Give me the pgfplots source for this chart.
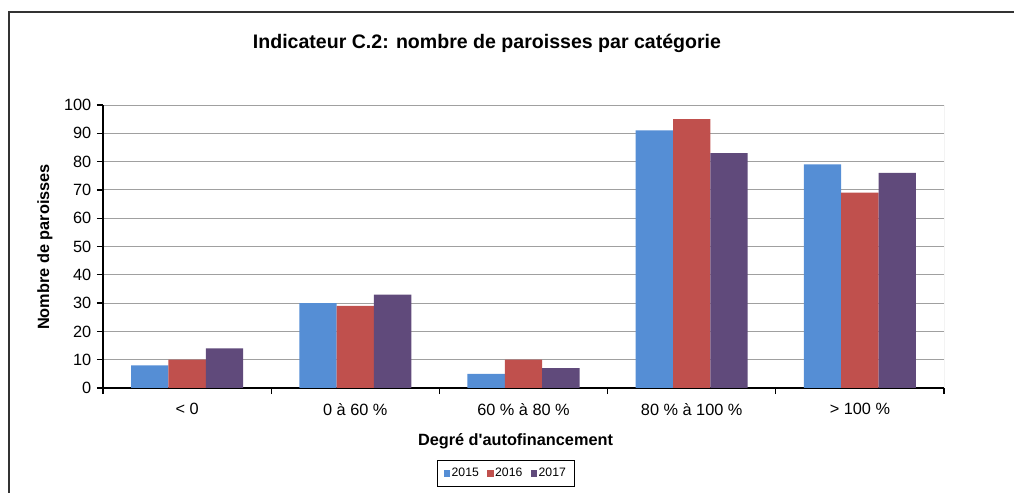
\documentclass[border=0pt]{standalone}
\usepackage{pgfplots}
\pgfplotsset{compat=1.18}
\usepackage{fontspec}
\setmainfont{Liberation Sans}[Ligatures=TeXOff]
\definecolor{c15}{HTML}{558ED5}
\definecolor{c16}{HTML}{C0504D}
\definecolor{c17}{HTML}{604A7B}
\definecolor{gridc}{HTML}{A0A0A0}
\def\px{0.6135pt}
\begin{document}
\begin{tikzpicture}
\path[use as bounding box] (0,0) rectangle (1014*\px,493*\px);
\draw[line width=1.1pt, black!80] (9*\px,0) -- (9*\px,481*\px) -- (1014*\px,481*\px);
\begin{axis}[
  at={(103*\px,105*\px)}, anchor=south west,
  scale only axis, width=515.95pt, height=173.62pt,
  xmin=-0.5, xmax=4.5, ymin=0, ymax=100,
  ytick={0,10,...,100},
  xtick={0,...,4},
  xticklabels={{< 0},{0 à 60 \%},{60 \% à 80 \%},{80 \% à 100 \%},{> 100 \%}},
  minor xtick={-0.5,0.5,...,4.5},
  major x tick style={draw=none},
  axis x line*=bottom, axis y line*=left,
  axis line style={black, line width=0.8pt},
  tick align=outside,
  major tick length=3.7pt, minor tick length=3.7pt,
  every tick/.style={black, line width=0.8pt},
  ymajorgrids, grid style={gridc, line width=0.6pt},
  /pgf/number format/assume math mode=true,
  tick label style={font=\fontsize{10}{12}\selectfont},
  xticklabel style={yshift=-2pt},
  ybar=0pt, bar width=0.222,
  title={Indicateur C.2: nombre de paroisses par catégorie},
  every axis title shift=0pt,
  title style={font=\bfseries\fontsize{12}{14}\selectfont, at={(axis description cs:0.4566,1.2173)}, anchor=center, yshift=0pt},
  xlabel={Degré d'autofinancement},
  xlabel style={font=\bfseries\fontsize{10}{12}\selectfont, at={(axis description cs:0.4905,-0.1873)}, anchor=center},
  ylabel={Nombre de paroisses},
  ylabel style={font=\bfseries\fontsize{10}{12}\selectfont, at={(axis description cs:-0.069,0.498)}, anchor=center, rotate=0},
  legend columns=3,
  legend style={at={(axis description cs:0.4786,-0.302)}, anchor=center, draw=black, line width=0.6pt,
    font=\fontsize{7.5}{9}\selectfont, inner xsep=4pt, inner ysep=2.5pt,
    nodes={inner xsep=1pt},
    /tikz/every even column/.append style={column sep=4pt}},
  legend image code/.code={\fill[#1] (0pt,-2pt) rectangle (4pt,2pt);},
]
\addplot[fill=c15, draw=none, bar shift=-0.222] coordinates {(0,8) (1,30) (2,5) (3,91) (4,79)};
\addplot[fill=c16, draw=none, bar shift=0] coordinates {(0,10) (1,29) (2,10) (3,95) (4,69)};
\addplot[fill=c17, draw=none, bar shift=0.222] coordinates {(0,14) (1,33) (2,7) (3,83) (4,76)};
\legend{2015,2016,2017}
\draw[gridc, line width=0.6pt] (rel axis cs:1,0) -- (rel axis cs:1,1);
\end{axis}
\end{tikzpicture}
\end{document}
